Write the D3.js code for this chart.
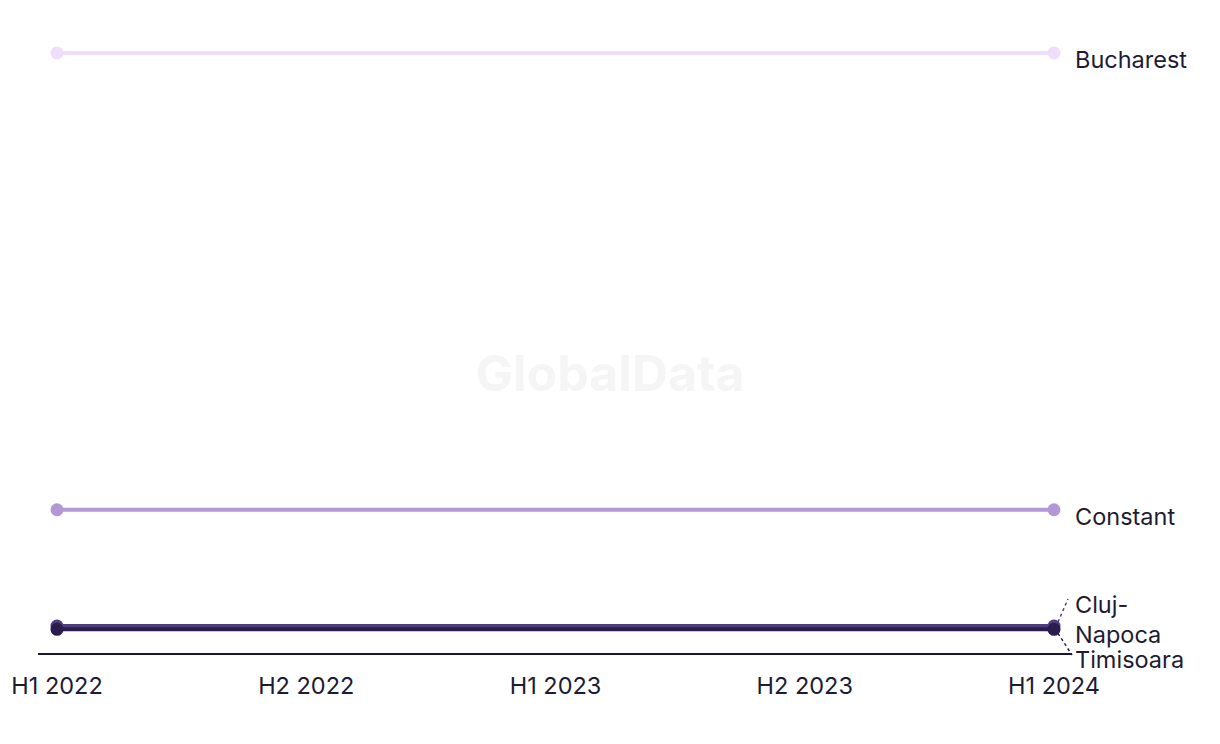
<!DOCTYPE html>
<html>
<head>
<meta charset="utf-8">
<script src="https://cdn.jsdelivr.net/npm/d3@7"></script>
<style>
  html, body { margin: 0; padding: 0; background: #fff; }
  svg { display: block; }
  text { font-family: Inter, "Noto Sans", sans-serif; }
</style>
</head>
<body>
<svg id="chart" width="1220" height="744"></svg>
<script>
const periods = ["H1 2022", "H2 2022", "H1 2023", "H2 2023", "H1 2024"];
const seriesNames = ["Bucharest", "Constant", "Cluj-Napoca", "Timisoara"];
const bucharest = [20.0, null, null, null, 20.0];
const constant = [4.8, null, null, null, 4.8];
const clujNapoca = [0.93, null, null, null, 0.93];
const timisoara = [0.82, null, null, null, 0.82];
const colors = ["#f0dcfb", "#b397d6", "#4f3c7c", "#2b1c4d"];

const seriesValues = [bucharest, constant, clujNapoca, timisoara];

const svg = d3.select("#chart");
const width = 1220, height = 744;
const margin = { left: 57, right: 166, top: 53, bottom: 90 };

const x = d3.scalePoint().domain(periods).range([margin.left, width - margin.right]);
const y = d3.scaleLinear().domain([0, 20]).range([height - margin.bottom, margin.top]);

// watermark
svg.append("text")
  .attr("x", 610).attr("y", 391)
  .attr("text-anchor", "middle")
  .attr("font-size", 50).attr("font-weight", 700)
  .attr("fill", "#f5f5f5")
  .text("GlobalData");

// axis
const axisG = svg.append("g").attr("transform", `translate(0,${y(0)})`);
axisG.append("line")
  .attr("x1", x(periods[0]) - 19).attr("x2", x(periods[periods.length - 1]) + 18)
  .attr("stroke", "#1b1530").attr("stroke-width", 2);
axisG.selectAll("text.tick").data(periods).join("text")
  .attr("class", "tick")
  .attr("x", d => x(d)).attr("y", 40)
  .attr("text-anchor", "middle")
  .attr("font-size", 23.5)
  .attr("fill", "#1e1b33")
  .text(d => d);

const line = d3.line()
  .defined(d => d.v != null)
  .x(d => x(d.p)).y(d => y(d.v));

seriesNames.forEach((name, i) => {
  const pts = periods.map((p, j) => ({ p, v: seriesValues[i][j] })).filter(d => d.v != null);
  svg.append("path")
    .datum(pts)
    .attr("d", line)
    .attr("fill", "none")
    .attr("stroke", colors[i])
    .attr("stroke-width", 4);
  svg.selectAll(null).data(pts).join("circle")
    .attr("cx", d => x(d.p)).attr("cy", d => y(d.v))
    .attr("r", 6.5)
    .attr("fill", colors[i]);
});

// labels
const xEnd = x(periods[periods.length - 1]);
const labelX = xEnd + 21;
function addLabel(lines, yTop) {
  const t = svg.append("text")
    .attr("x", labelX).attr("y", yTop)
    .attr("font-size", 23.5).attr("fill", "#1e1b33");
  lines.forEach((l, k) => {
    t.append("tspan").attr("x", labelX).attr("dy", k === 0 ? 0 : 30).text(l);
  });
}
addLabel(["Bucharest"], y(bucharest[4]) + 15);
addLabel(["Constant"], y(constant[4]) + 15);
addLabel(["Cluj-", "Napoca"], 613);
addLabel(["Timisoara"], 668);

// connectors
svg.append("line")
  .attr("x1", xEnd + 4).attr("y1", y(clujNapoca[4]) - 4)
  .attr("x2", xEnd + 14).attr("y2", 599)
  .attr("stroke", colors[2]).attr("stroke-width", 1.5).attr("stroke-dasharray", "3,3");
svg.append("line")
  .attr("x1", xEnd + 4).attr("y1", y(timisoara[4]) + 4)
  .attr("x2", xEnd + 18).attr("y2", 655)
  .attr("stroke", colors[3]).attr("stroke-width", 1.5).attr("stroke-dasharray", "3,3");
</script>
</body>
</html>
